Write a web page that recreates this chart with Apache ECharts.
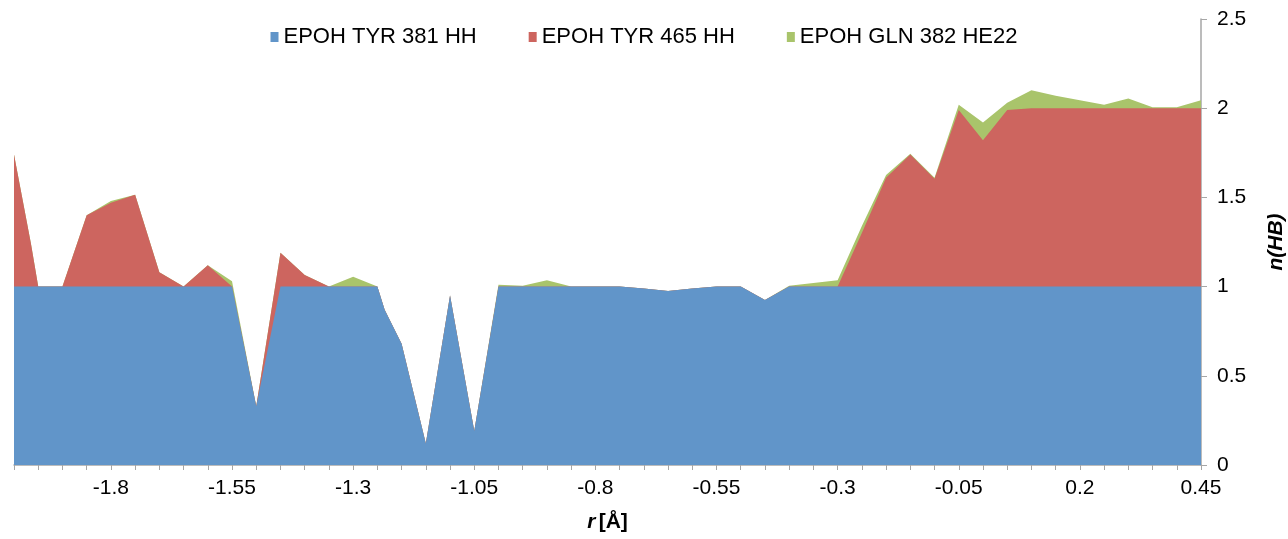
<!DOCTYPE html>
<html>
<head>
<meta charset="utf-8">
<script src="https://cdn.jsdelivr.net/npm/echarts@6/dist/echarts.min.js"></script>
<style>
html,body{margin:0;padding:0;background:#fff;}
#chart{width:1288px;height:539px;}
</style>
</head>
<body>
<div id="chart"></div>
<script>
// r [Å] positions of the samples
const rValues = [-2.0,-1.965,-1.95,-1.9,-1.85,-1.8,-1.75,-1.7,-1.65,-1.6,-1.55,-1.5,-1.45,-1.4,-1.35,-1.3,-1.25,-1.235,-1.2,-1.15,-1.1,-1.05,-1.0,-0.95,-0.9,-0.85,-0.8,-0.75,-0.7,-0.65,-0.6,-0.55,-0.5,-0.45,-0.4,-0.35,-0.3,-0.25,-0.2,-0.15,-0.1,-0.05,0.0,0.05,0.1,0.15,0.2,0.25,0.3,0.35,0.4,0.45];
const tyr381 = [1,1,1,1,1,1,1,1,1,1,1,0.33,1,1,1,1,1,0.87,0.68,0.12,0.95,0.19,1,1,1,1,1,1,0.99,0.975,0.99,1,1,0.925,1,1,1,1,1,1,1,1,1,1,1,1,1,1,1,1,1,1];
const tyr465 = [0.74,0.24,0,0,0.40,0.47,0.515,0.08,0,0.12,0,0,0.19,0.065,0,0,0,0,0,0,0,0,0,0,0,0,0,0,0,0,0,0,0,0,0,0,0,0.30,0.61,0.74,0.605,0.99,0.82,0.99,1,1,1,1,1,1,1,1];
const gln382 = [0,0,0,0,0,0.01,0,0,0,0,0.03,0,0,0,0,0.055,0,0,0,0,0,0,0.01,0.005,0.035,0,0,0,0,0,0,0,0,0,0.005,0.02,0.035,0.04,0.015,0.005,0.005,0.03,0.10,0.04,0.10,0.07,0.045,0.02,0.055,0.005,0.005,0.045];
const seriesNames = ['EPOH TYR 381 HH','EPOH TYR 465 HH','EPOH GLN 382 HE22'];
const xTickLabels = ['-1.8','-1.55','-1.3','-1.05','-0.8','-0.55','-0.3','-0.05','0.2','0.45'];
const yTickLabels = ['0','0.5','1','1.5','2','2.5'];

const colors = ['#6195c9','#cd655f','#a9c46b'];
const font = 'Liberation Sans, Arial, sans-serif';
const values = [tyr381, tyr465, gln382];

// stacked totals (each area filled down to 0, upper layers drawn first)
const cumulative = [];
let running = rValues.map(function () { return 0; });
values.forEach(function (arr, s) {
  running = running.map(function (v, i) { return v + arr[i]; });
  cumulative[s] = running.slice();
});

const series = [];
for (let s = values.length - 1; s >= 0; s--) {
  series.push({
    name: seriesNames[s], type: 'line',
    symbol: 'none', showSymbol: false,
    lineStyle: {width: 0},
    itemStyle: {color: colors[s]},
    areaStyle: {color: colors[s], opacity: 1, origin: 'start'},
    data: rValues.map(function (r, i) { return [r, cumulative[s][i]]; })
  });
}

const chart = echarts.init(document.getElementById('chart'));
chart.setOption({
  animation: false,
  textStyle: {fontFamily: font},
  legend: {
    top: 21, left: 'center',
    icon: 'rect', itemWidth: 8, itemHeight: 10, itemGap: 52,
    textStyle: {fontFamily: font, fontSize: 22, color: '#000'},
    data: seriesNames
  },
  grid: {left: 14, right: 87, top: 19, bottom: 74, containLabel: false, outerBoundsMode: 'none'},
  xAxis: {
    type: 'value', min: -2.0, max: 0.45, interval: 0.05,
    name: '{i|r} {b|[Å]}', nameLocation: 'middle', nameGap: 47,
    nameTextStyle: {rich: {
      i: {fontFamily: font, fontSize: 21, fontWeight: 'bold', fontStyle: 'italic', color: '#000'},
      b: {fontFamily: font, fontSize: 21, fontWeight: 'bold', color: '#000'}
    }},
    splitLine: {show: false},
    axisLine: {show: true, onZero: false, lineStyle: {color: '#a6a6a6', width: 1.5}},
    axisTick: {show: true, length: 5, lineStyle: {color: '#a6a6a6'}},
    axisLabel: {
      margin: 13, fontFamily: font, fontSize: 21, color: '#000',
      formatter: function (v) {
        const k = Math.round((v + 1.8) / 0.05);
        if (k >= 0 && k % 5 === 0) return xTickLabels[k / 5] || '';
        return '';
      }
    }
  },
  yAxis: {
    type: 'value', position: 'right', min: 0, max: 2.5, interval: 0.5,
    name: 'n(HB)', nameLocation: 'middle', nameGap: 65, nameRotate: 90,
    nameTextStyle: {fontFamily: font, fontSize: 21, fontWeight: 'bold', fontStyle: 'italic', color: '#000'},
    splitLine: {show: false},
    axisLine: {show: true, onZero: false, lineStyle: {color: '#a6a6a6', width: 1.5}},
    axisTick: {show: true, length: 6, lineStyle: {color: '#a6a6a6'}},
    axisLabel: {
      margin: 16, fontFamily: font, fontSize: 21, color: '#000',
      formatter: function (v) { return yTickLabels[Math.round(v / 0.5)]; }
    }
  },
  series: series
});
</script>
</body>
</html>
